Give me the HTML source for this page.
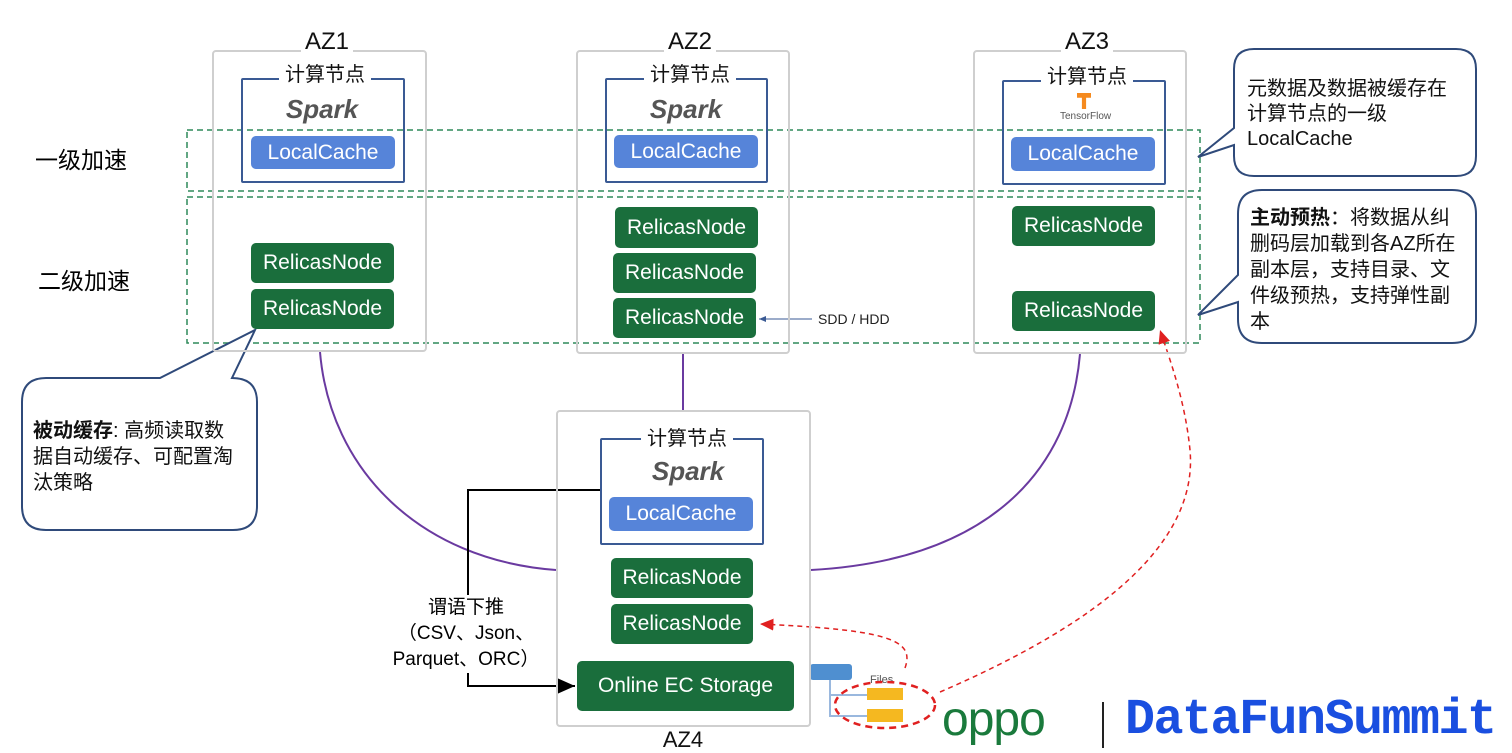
<!DOCTYPE html>
<html><head><meta charset="utf-8"><style>
body{margin:0;width:1512px;height:752px;background:#fff;overflow:hidden;position:relative;font-family:"Liberation Sans","Noto Sans CJK SC",sans-serif}
.a{position:absolute}
.az{position:absolute;border:2px solid #cfcfcf;border-radius:4px;box-sizing:border-box}
.cp{position:absolute;border:2px solid #3a5a94;box-sizing:border-box;border-radius:2px}
.lbl{position:absolute;background:#fff;font-size:20px;color:#111;padding:0 6px;white-space:nowrap;transform:translateX(-50%)}
.azl{position:absolute;background:#fff;font-size:24px;color:#111;padding:0 4px;transform:translateX(-50%)}
.lc{position:absolute;background:#5684d9;color:#fff;font-size:21px;border-radius:5px;display:flex;align-items:center;justify-content:center}
.rn{position:absolute;background:#1a6e3c;color:#fff;font-size:21px;border-radius:5px;display:flex;align-items:center;justify-content:center}
.sp{position:absolute;font-size:26px;font-weight:bold;color:#555;font-style:italic;transform:translateX(-50%)}
.txt{position:absolute;font-size:20px;color:#111;line-height:25px;white-space:nowrap}
</style></head><body>
<svg class="a" style="left:0;top:0" width="1512" height="752">
<defs>
<marker id="ab" markerWidth="10" markerHeight="10" refX="9" refY="5" orient="auto"><path d="M0,1 L9,5 L0,9 z" fill="#000"/></marker>
<marker id="ar" markerWidth="10" markerHeight="10" refX="9" refY="5" orient="auto"><path d="M0,1 L9,5 L0,9 z" fill="#e02020"/></marker>
<marker id="abl" markerWidth="8" markerHeight="8" refX="7" refY="4" orient="auto"><path d="M0,1 L7,4 L0,7 z" fill="#3a5a94"/></marker>
</defs>
<path d="M320,352 C330,470 420,560 556,570" fill="none" stroke="#6a3aa0" stroke-width="2"/>
<path d="M1080,354 C1070,470 990,560 811,570" fill="none" stroke="#6a3aa0" stroke-width="2"/>
<line x1="683" y1="354" x2="683" y2="410" stroke="#6a3aa0" stroke-width="2"/>
<rect x="187" y="130" width="1013" height="61" fill="none" stroke="#2e8a5a" stroke-width="1.5" stroke-dasharray="6,4"/>
<rect x="187" y="197" width="1013" height="146" fill="none" stroke="#2e8a5a" stroke-width="1.5" stroke-dasharray="6,4"/>
<path d="M600,490 H468 V686 H575" fill="none" stroke="#000" stroke-width="2" marker-end="url(#ab)"/>
<line x1="812" y1="319" x2="759" y2="319" stroke="#3a5a94" stroke-width="1" marker-end="url(#abl)"/>
<path d="M1258,49 H1456 Q1476,49 1476,69 V156 Q1476,176 1456,176 H1254 Q1234,176 1234,156 V145 L1198,157 L1234,128 V69 Q1234,49 1254,49 Z" fill="#fff" stroke="#2f4a7a" stroke-width="2"/>
<path d="M1262,190 H1452 Q1476,190 1476,214 V319 Q1476,343 1452,343 H1262 Q1238,343 1238,319 V302 L1198,315 L1238,275 V214 Q1238,190 1262,190 Z" fill="#fff" stroke="#2f4a7a" stroke-width="2"/>
<path d="M46,378 H160 L255,330 L232,378 Q257,378 257,402 V506 Q257,530 233,530 H46 Q22,530 22,506 V402 Q22,378 46,378 Z" fill="#fff" stroke="#2f4a7a" stroke-width="2"/>
<rect x="810" y="664" width="42" height="16" rx="3" fill="#4f8fd0"/>
<path d="M830,680 V716 H867 M830,695 H867" fill="none" stroke="#9ab8de" stroke-width="2"/>
<rect x="867" y="688" width="36" height="12" fill="#f5b820"/>
<rect x="867" y="709" width="36" height="13" fill="#f5b820"/>
<text x="870" y="683" font-size="11" fill="#555" font-family="Liberation Sans">Files</text>
<ellipse cx="885" cy="705" rx="50" ry="23" fill="none" stroke="#e02020" stroke-width="2.5" stroke-dasharray="7,5"/>
<path d="M905,668 C915,640 890,630 760,624" fill="none" stroke="#e02020" stroke-width="1.5" stroke-dasharray="5,4" marker-end="url(#ar)"/>
<path d="M940,692 C1060,640 1200,560 1190,450 C1185,400 1170,360 1160,330" fill="none" stroke="#e02020" stroke-width="1.5" stroke-dasharray="5,4" marker-end="url(#ar)"/>
<line x1="1103" y1="702" x2="1103" y2="748" stroke="#222" stroke-width="2"/>
</svg>

<div class="az" style="left:212px;top:50px;width:215px;height:302px"></div>
<div class="azl" style="left:327px;top:28px">AZ1</div>
<div class="cp" style="left:241px;top:78px;width:164px;height:105px"></div>
<div class="lbl" style="left:325px;top:58px">计算节点</div>
<div class="sp" style="left:322px;top:94px">Spark</div>
<div class="lc" style="left:251px;top:136px;width:144px;height:33px">LocalCache</div>

<div class="az" style="left:576px;top:50px;width:214px;height:304px"></div>
<div class="azl" style="left:690px;top:28px">AZ2</div>
<div class="cp" style="left:605px;top:78px;width:163px;height:105px"></div>
<div class="lbl" style="left:690px;top:58px">计算节点</div>
<div class="sp" style="left:686px;top:94px">Spark</div>
<div class="lc" style="left:614px;top:135px;width:144px;height:33px">LocalCache</div>

<div class="az" style="left:973px;top:50px;width:214px;height:304px"></div>
<div class="azl" style="left:1087px;top:28px">AZ3</div>
<div class="cp" style="left:1002px;top:80px;width:164px;height:105px"></div>
<div class="lbl" style="left:1087px;top:60px">计算节点</div>
<div class="a" style="left:1077px;top:93px;width:14px;height:16px;background:#f58a1f;clip-path:polygon(0 0,100% 0,100% 30%,65% 30%,65% 100%,35% 100%,35% 30%,0 30%)"></div>
<div class="a" style="left:1060px;top:111px;font-size:10px;color:#555">TensorFlow</div>
<div class="lc" style="left:1011px;top:137px;width:144px;height:34px">LocalCache</div>

<div class="rn" style="left:251px;top:243px;width:143px;height:40px">RelicasNode</div>
<div class="rn" style="left:251px;top:289px;width:143px;height:40px">RelicasNode</div>
<div class="rn" style="left:615px;top:207px;width:143px;height:41px">RelicasNode</div>
<div class="rn" style="left:613px;top:253px;width:143px;height:40px">RelicasNode</div>
<div class="rn" style="left:613px;top:298px;width:143px;height:40px">RelicasNode</div>
<div class="rn" style="left:1012px;top:206px;width:143px;height:40px">RelicasNode</div>
<div class="rn" style="left:1012px;top:291px;width:143px;height:40px">RelicasNode</div>
<div class="a" style="left:818px;top:311px;font-size:14px;color:#222">SDD / HDD</div>

<div class="az" style="left:556px;top:410px;width:255px;height:317px"></div>
<div class="azl" style="left:683px;top:727px;font-size:22px">AZ4</div>
<div class="cp" style="left:600px;top:438px;width:164px;height:107px"></div>
<div class="lbl" style="left:687px;top:422px">计算节点</div>
<div class="sp" style="left:688px;top:456px">Spark</div>
<div class="lc" style="left:609px;top:497px;width:144px;height:34px">LocalCache</div>
<div class="rn" style="left:611px;top:558px;width:142px;height:40px">RelicasNode</div>
<div class="rn" style="left:611px;top:604px;width:142px;height:40px">RelicasNode</div>
<div class="rn" style="left:577px;top:661px;width:217px;height:50px">Online EC Storage</div>

<div class="a" style="left:35px;top:141px;font-size:23px">一级加速</div>
<div class="a" style="left:38px;top:262px;font-size:23px">二级加速</div>
<div class="a" style="left:380px;top:595px;width:172px;text-align:center;font-size:19px;line-height:26px;background:#fff;white-space:nowrap">谓语下推<br>（CSV、Json、<br>Parquet、ORC）</div>

<div class="txt" style="left:1247px;top:77px">元数据及数据被缓存在<br>计算节点的一级<br>LocalCache</div>
<div class="txt" style="left:1250px;top:205px;line-height:26px"><b>主动预热</b>：将数据从纠<br>删码层加载到各AZ所在<br>副本层，支持目录、文<br>件级预热，支持弹性副<br>本</div>
<div class="txt" style="left:33px;top:418px;line-height:26px"><b>被动缓存</b>: 高频读取数<br>据自动缓存、可配置淘<br>汰策略</div>

<div class="a" style="left:942px;top:692px;font-size:48px;color:#1a7a3c;letter-spacing:-1px">oppo</div>
<div class="a" style="left:1125px;top:692px;font-size:50px;font-weight:bold;color:#1a4fe0;font-family:'Liberation Mono',monospace;letter-spacing:-1.5px">DataFunSummit</div>
</body></html>
